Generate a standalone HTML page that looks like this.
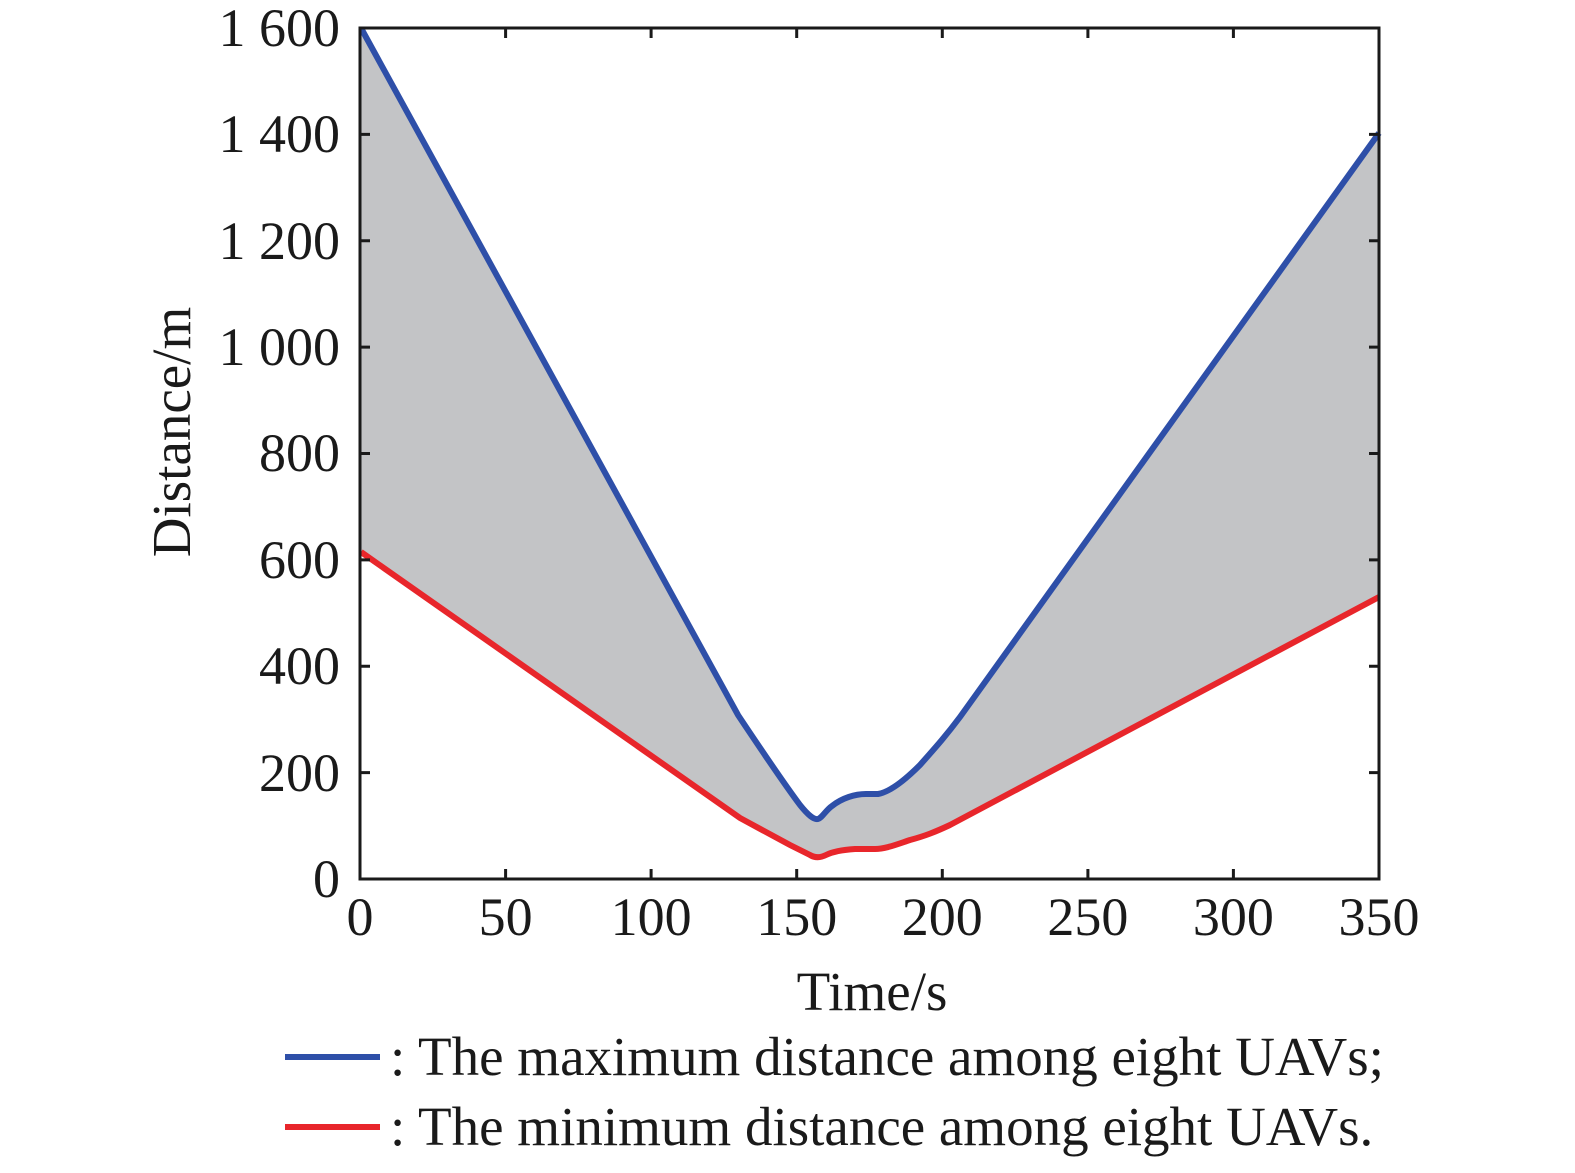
<!DOCTYPE html>
<html><head><style>body{margin:0;background:#fff}</style></head><body>
<svg width="1575" height="1168" xmlns="http://www.w3.org/2000/svg" font-family="Liberation Serif, serif" fill="#1a1a1a">
<path d="M361,28 L738,715 C760,748 785,785 800,805 C808,815 814,820 818,819 C822,818 826,810 832,806 C842,798 855,794 866,794 L878,794 C890,792 905,780 920,765 C935,748 945,737 960,717 L1379,133 L1379,597 L950,825 C935,832 925,836 910,840 C895,845 885,849 875,849 L855,849 C840,850 832,852 826,855 C820,858 815,858 810,855 L790,845 L740,818 L361,552 Z" fill="#c3c4c6"/>
<path d="M361,28 L738,715 C760,748 785,785 800,805 C808,815 814,820 818,819 C822,818 826,810 832,806 C842,798 855,794 866,794 L878,794 C890,792 905,780 920,765 C935,748 945,737 960,717 L1379,133" fill="none" stroke="#2e4fa8" stroke-width="6"/>
<path d="M361,552 L740,818 L790,845 L810,855 C815,858 820,858 826,855 C832,852 840,850 855,849 L875,849 C885,849 895,845 910,840 C925,836 935,832 950,825 L1379,597" fill="none" stroke="#e8262b" stroke-width="6"/>
<rect x="360" y="28" width="1019" height="851" fill="none" stroke="#1a1a1a" stroke-width="3"/>
<g stroke="#1a1a1a" stroke-width="3">
<path d="M505.6,879v-10M651.1,879v-10M796.7,879v-10M942.3,879v-10M1087.9,879v-10M1233.4,879v-10"/>
<path d="M505.6,28v10M651.1,28v10M796.7,28v10M942.3,28v10M1087.9,28v10M1233.4,28v10"/>
<path d="M360,772.6h10M360,666.2h10M360,559.9h10M360,453.5h10M360,347.1h10M360,240.8h10M360,134.4h10"/>
<path d="M1379,772.6h-10M1379,666.2h-10M1379,559.9h-10M1379,453.5h-10M1379,347.1h-10M1379,240.8h-10M1379,134.4h-10"/>
</g>
<g font-size="54" text-anchor="middle">
<text x="360" y="935">0</text><text x="505.6" y="935">50</text><text x="651.1" y="935">100</text><text x="796.7" y="935">150</text><text x="942.3" y="935">200</text><text x="1087.9" y="935">250</text><text x="1233.4" y="935">300</text><text x="1379" y="935">350</text>
</g>
<g font-size="54" text-anchor="end">
<text x="340" y="897">0</text><text x="340" y="791">200</text><text x="340" y="684">400</text><text x="340" y="578">600</text><text x="340" y="471">800</text><text x="340" y="365">1 000</text><text x="340" y="259">1 200</text><text x="340" y="152">1 400</text><text x="340" y="46">1 600</text>
</g>
<text x="872" y="1010" font-size="55" text-anchor="middle">Time/s</text>
<text transform="translate(190,432) rotate(-90)" font-size="55" text-anchor="middle">Distance/m</text>
<line x1="285" y1="1057" x2="380" y2="1057" stroke="#2e4fa8" stroke-width="6"/>
<line x1="285" y1="1127" x2="380" y2="1127" stroke="#e8262b" stroke-width="6"/>
<text x="390" y="1075" font-size="55">: The maximum distance among eight UAVs;</text>
<text x="390" y="1145" font-size="55">: The minimum distance among eight UAVs.</text>
</svg>
</body></html>
